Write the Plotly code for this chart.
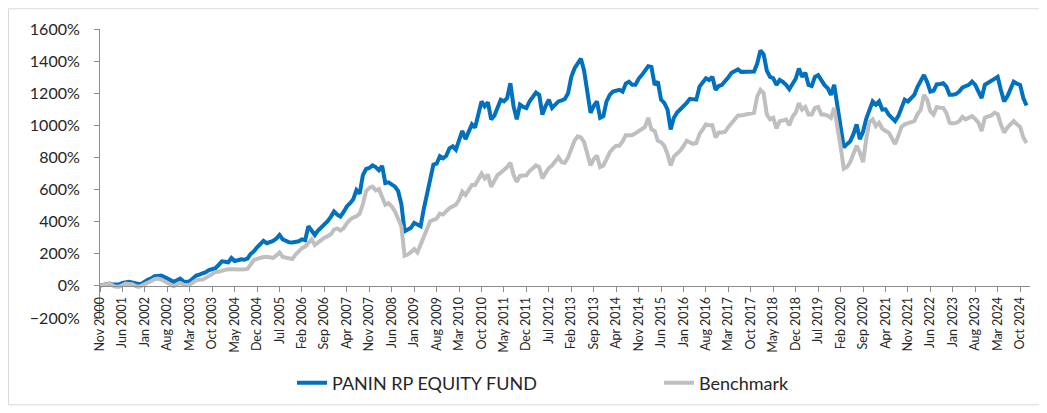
import pandas as pd
import plotly.graph_objects as go

start_month = "2000-11-01"

fund = [
    2, 4, 10, 14, 8, 6, 10, 18, 25, 26, 22, 14, 12, 14, 30, 40, 46, 60, 62, 64,
    56, 45, 35, 25, 35, 45, 28, 25, 29, 45, 65, 70, 75, 85, 98, 106, 110, 130, 153, 150,
    147, 174, 155, 160, 166, 163, 170, 200, 215, 240, 262, 280, 266, 270, 280, 295, 317, 290, 278, 272,
    270, 272, 278, 290, 284, 372, 340, 317, 345, 365, 380, 403, 430, 464, 444, 432, 460, 495, 515, 540,
    597, 575, 690, 728, 734, 750, 740, 720, 747, 640, 645, 630, 618, 590, 510, 340, 350, 362, 393, 380,
    372, 480, 570, 680, 755, 761, 808, 795, 810, 857, 869, 848, 910, 965, 914, 960, 1006, 986, 1080, 1149,
    1118, 1143, 1037, 1060, 1110, 1160, 1150, 1170, 1262, 1118, 1037, 1129, 1115, 1108, 1150, 1175, 1204, 1190, 1067, 1120,
    1160, 1108, 1130, 1149, 1155, 1164, 1200, 1300, 1354, 1385, 1415, 1340, 1200, 1078, 1120, 1149, 1047, 1057, 1149, 1190,
    1210, 1215, 1221, 1210, 1260, 1272, 1252, 1252, 1290, 1313, 1340, 1368, 1364, 1252, 1272, 1160, 1140, 1100, 975, 1047,
    1080, 1098, 1120, 1140, 1165, 1160, 1160, 1241, 1272, 1293, 1282, 1302, 1221, 1245, 1252, 1272, 1300, 1327, 1340, 1348,
    1333, 1333, 1333, 1333, 1335, 1385, 1466, 1442, 1340, 1302, 1293, 1252, 1282, 1270, 1252, 1225, 1262, 1290, 1354, 1302,
    1327, 1252, 1245, 1302, 1313, 1282, 1250, 1231, 1190, 1252, 1129, 1016, 863, 883, 900, 945, 1006, 914, 960, 1040,
    1098, 1149, 1129, 1149, 1098, 1100, 1067, 1045, 1026, 1057, 1118, 1160, 1149, 1170, 1190, 1240, 1280, 1313, 1270, 1210,
    1215, 1255, 1258, 1262, 1241, 1190, 1190, 1195, 1210, 1235, 1245, 1252, 1272, 1252, 1210, 1170, 1252, 1265, 1275, 1295,
    1302, 1220, 1149, 1180, 1230, 1272, 1260, 1252, 1170, 1123,
]

benchmark = [
    0, 4, 10, 14, 2, -6, -6, 5, 14, 12, 10, 0, -6, 2, 10, 22, 30, 42, 45, 40,
    32, 20, 8, -2, 10, 18, 8, 4, 8, 20, 35, 38, 39, 50, 62, 75, 86, 88, 96, 100,
    104, 106, 104, 102, 100, 103, 106, 135, 161, 168, 175, 180, 182, 178, 174, 190, 208, 180, 175, 170,
    168, 195, 219, 235, 245, 270, 290, 255, 270, 290, 300, 310, 321, 350, 358, 345, 360, 390, 413, 425,
    434, 450, 510, 590, 610, 618, 595, 603, 560, 505, 515, 495, 464, 420, 372, 188, 195, 210, 229, 208,
    260, 310, 360, 403, 412, 419, 450, 444, 465, 485, 495, 505, 536, 587, 566, 600, 628, 628, 665, 699,
    669, 693, 618, 650, 690, 705, 720, 740, 767, 690, 648, 685, 688, 689, 715, 735, 750, 740, 669, 705,
    734, 750, 775, 802, 771, 767, 800, 860, 904, 931, 924, 895, 830, 750, 790, 812, 740, 750, 790, 832,
    855, 873, 873, 900, 939, 939, 939, 950, 965, 980, 990, 1047, 975, 965, 904, 895, 873, 822, 750, 805,
    820, 842, 870, 904, 894, 885, 890, 945, 975, 1006, 1000, 1000, 924, 955, 955, 960, 990, 1016, 1040, 1061,
    1061, 1064, 1067, 1072, 1078, 1180, 1221, 1200, 1067, 1037, 1047, 980, 1026, 1030, 1037, 1000, 1053, 1080, 1139, 1098,
    1114, 1067, 1067, 1108, 1114, 1067, 1067, 1060, 1047, 1108, 996, 870, 730, 740, 771, 820, 873, 832, 771, 914,
    1020, 1037, 996, 1016, 980, 965, 955, 920, 883, 934, 990, 1006, 1016, 1020, 1026, 1070, 1098, 1190, 1160, 1088,
    1067, 1114, 1110, 1108, 1078, 1016, 1012, 1015, 1026, 1053, 1037, 1045, 1057, 1040, 1016, 965, 1047, 1055, 1061, 1078,
    1070, 1006, 955, 986, 1005, 1026, 1006, 990, 924, 890,
]

assert len(fund) == len(benchmark)
months = [d.strftime("%b %Y") for d in pd.date_range(start_month, periods=len(fund), freq="MS")]
tick_labels = months[::7]

# the page body has an 8px margin, so the figure is drawn at (8, 8)
OFF = 8
W, H = 1047 - OFF, 413 - OFF
PLOT_L, PLOT_R, PLOT_T, PLOT_B = 100, 1030, 29, 322   # target absolute px
ML, MT = PLOT_L - OFF, PLOT_T - OFF
MR, MB = W - (PLOT_R - OFF), H - (PLOT_B - OFF)
PW, PH = W - ML - MR, H - MT - MB

YMIN, YMAX = -200, 1600
FONT = "Lato, Carlito, Calibri, sans-serif"
AXIS_COLOR = "#8c8c8c"
TEXT_COLOR = "#262626"


def px_x(xabs):
    return (xabs - PLOT_L) / PW


def px_y(yabs):
    return (PLOT_B - yabs) / PH


fig = go.Figure()
fig.add_trace(go.Scatter(
    x=months, y=fund, mode="lines", name="PANIN RP EQUITY FUND",
    line=dict(color="#0070C0", width=4),
))
fig.add_trace(go.Scatter(
    x=months, y=benchmark, mode="lines", name="Benchmark",
    line=dict(color="#BFBFBF", width=4),
))

zero_pos = (0 - YMIN) / (YMAX - YMIN)

fig.update_layout(
    width=W, height=H,
    margin=dict(l=ML, r=MR, t=MT, b=MB, pad=0),
    paper_bgcolor="white", plot_bgcolor="white",
    font=dict(family=FONT, color=TEXT_COLOR, size=13),
    showlegend=True,
    legend=dict(
        orientation="h", x=px_x(292), xanchor="left",
        y=px_y(388), yanchor="middle",
        font=dict(size=18, family=FONT, color=TEXT_COLOR),
        entrywidth=322, entrywidthmode="pixels",
        bgcolor="rgba(0,0,0,0)",
    ),
    xaxis=dict(
        type="category", range=[0, PW / 3.206],
        tickmode="array", tickvals=tick_labels, ticktext=tick_labels,
        tickangle=-90, ticks="outside", ticklen=5, tickcolor=AXIS_COLOR,
        showline=True, linecolor=AXIS_COLOR, linewidth=1,
        showgrid=False, zeroline=False,
        anchor="free", position=zero_pos,
        tickfont=dict(size=12.5, family=FONT, color=TEXT_COLOR),
    ),
    yaxis=dict(
        range=[YMIN, YMAX], dtick=200, tick0=0, ticksuffix="%",
        ticks="outside", ticklen=5, tickcolor=AXIS_COLOR,
        ticklabelstandoff=11,
        showline=True, linecolor=AXIS_COLOR, linewidth=1,
        showgrid=False, zeroline=False,
        tickfont=dict(size=16, family=FONT, color=TEXT_COLOR),
    ),
)

# outer chart-area border (drawn at the figure edge)
fig.add_shape(
    type="rect", xref="paper", yref="paper",
    x0=px_x(8.5), x1=px_x(1043),
    y0=px_y(410), y1=px_y(8.5),
    line=dict(color="#d9d9d9", width=1), fillcolor="rgba(0,0,0,0)", layer="below",
)

fig.write_html("out.html")
